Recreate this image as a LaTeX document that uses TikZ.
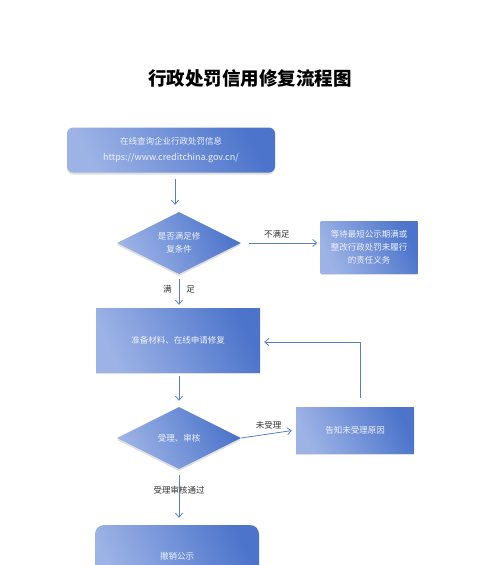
\documentclass[tikz,border=0pt]{standalone}
\usepackage{fontspec}
\newfontfamily\cjk{Noto Sans CJK SC}
\usetikzlibrary{arrows.meta,positioning,shapes.geometric,shadows}
\definecolor{rpLight}{HTML}{9DB3E6}
\definecolor{rpDark}{HTML}{4C74CB}
\definecolor{rpLine}{HTML}{5A7DC8}
\definecolor{rpText}{HTML}{EEF2FB}
\definecolor{rpLabel}{HTML}{333333}

\begin{document}
\begin{tikzpicture}[
  x=1pt,y=-1pt,
  font=\cjk,
  >={Straight Barb[length=4pt,width=7pt]},
  card/.style={draw=none, left color=rpLight, right color=rpDark,
               shading angle=115, text=rpText, align=center,
               font=\cjk\fontsize{8.5}{13}\selectfont,
               drop shadow={opacity=.25, shadow xshift=0pt, shadow yshift=-2pt}},
  gate/.style={card, diamond, aspect=2, inner sep=0pt},
  flow/.style={->, line width=.8pt, draw=rpLine},
  tag/.style={font=\cjk\fontsize{8.5}{10}\selectfont, text=rpLabel, fill=white, inner sep=1pt},
]
  \path[use as bounding box] (0,0) rectangle (500,565);

  \node[font=\cjk\bfseries\fontsize{18.5}{22}\selectfont] (title) at (250,78)
    {行政处罚信用修复流程图};

  % main column
  \node[card, rounded corners=6pt, minimum width=208pt, minimum height=45pt]
    (query) at (171,150)
    {在线查询企业行政处罚信息\\[3pt]
     {\fontsize{9}{11}\selectfont https://www.creditchina.gov.cn/}};
  \node[gate, minimum width=124pt, minimum height=62pt] (check) at (179,243)
    {是否满足修\\复条件};
  \node[card, minimum width=164pt, minimum height=64pt] (apply) at (178,340)
    {准备材料、在线申请修复};
  \node[gate, minimum width=124pt, minimum height=62pt] (review) at (179,438)
    {受理、审核};
  \node[card, rounded corners=9pt, minimum width=164pt, minimum height=62pt]
    (revoke) at (177,556) {撤销公示};

  % side boxes
  \node[card, minimum width=97pt, minimum height=52pt] (wait) at (369,247)
    {等待最短公示期满或\\整改行政处罚未履行\\的责任义务};
  \node[card, minimum width=118pt, minimum height=46pt] (reason) at (355,430)
    {告知未受理原因};

  \draw[flow] ([xshift=4pt,yshift=-6pt]query.south) -- ([xshift=-4pt,yshift=7pt]check.north);
  \draw[flow, shorten <=8pt, shorten >=3pt] (check.east) -- (check.east -| wait.west)
    coordinate[pos=.45] (nomid);
  \node[tag, above=4pt of nomid] (nolbl) {不满足};
  \draw[flow, shorten <=5pt, shorten >=3pt] (check.south) -- (apply.north -| check.south)
    node[pos=.45, left=6pt, tag] (yesa) {满}
    node[pos=.45, right=6pt, tag] (yesb) {足};
  \draw[flow, shorten <=4pt, shorten >=6pt] (apply.south -| check.south) -- (review.north);
  \draw[flow, shorten >=4pt] (review.east) -- (reason.west)
    node[pos=.5, above=3pt, tag] (nolbl2) {未受理};
  \coordinate (back) at (360,342);
  \draw[flow, shorten >=4pt] ([yshift=9pt]reason.north -| back) -- (back) -- (apply.east |- back);
  \draw[flow, shorten <=6pt, shorten >=7pt] (review.south) -- (review.south |- revoke.north)
    node[pos=.38, tag, fill=none] (passlbl) {受理审核通过};
\end{tikzpicture}
\end{document}
